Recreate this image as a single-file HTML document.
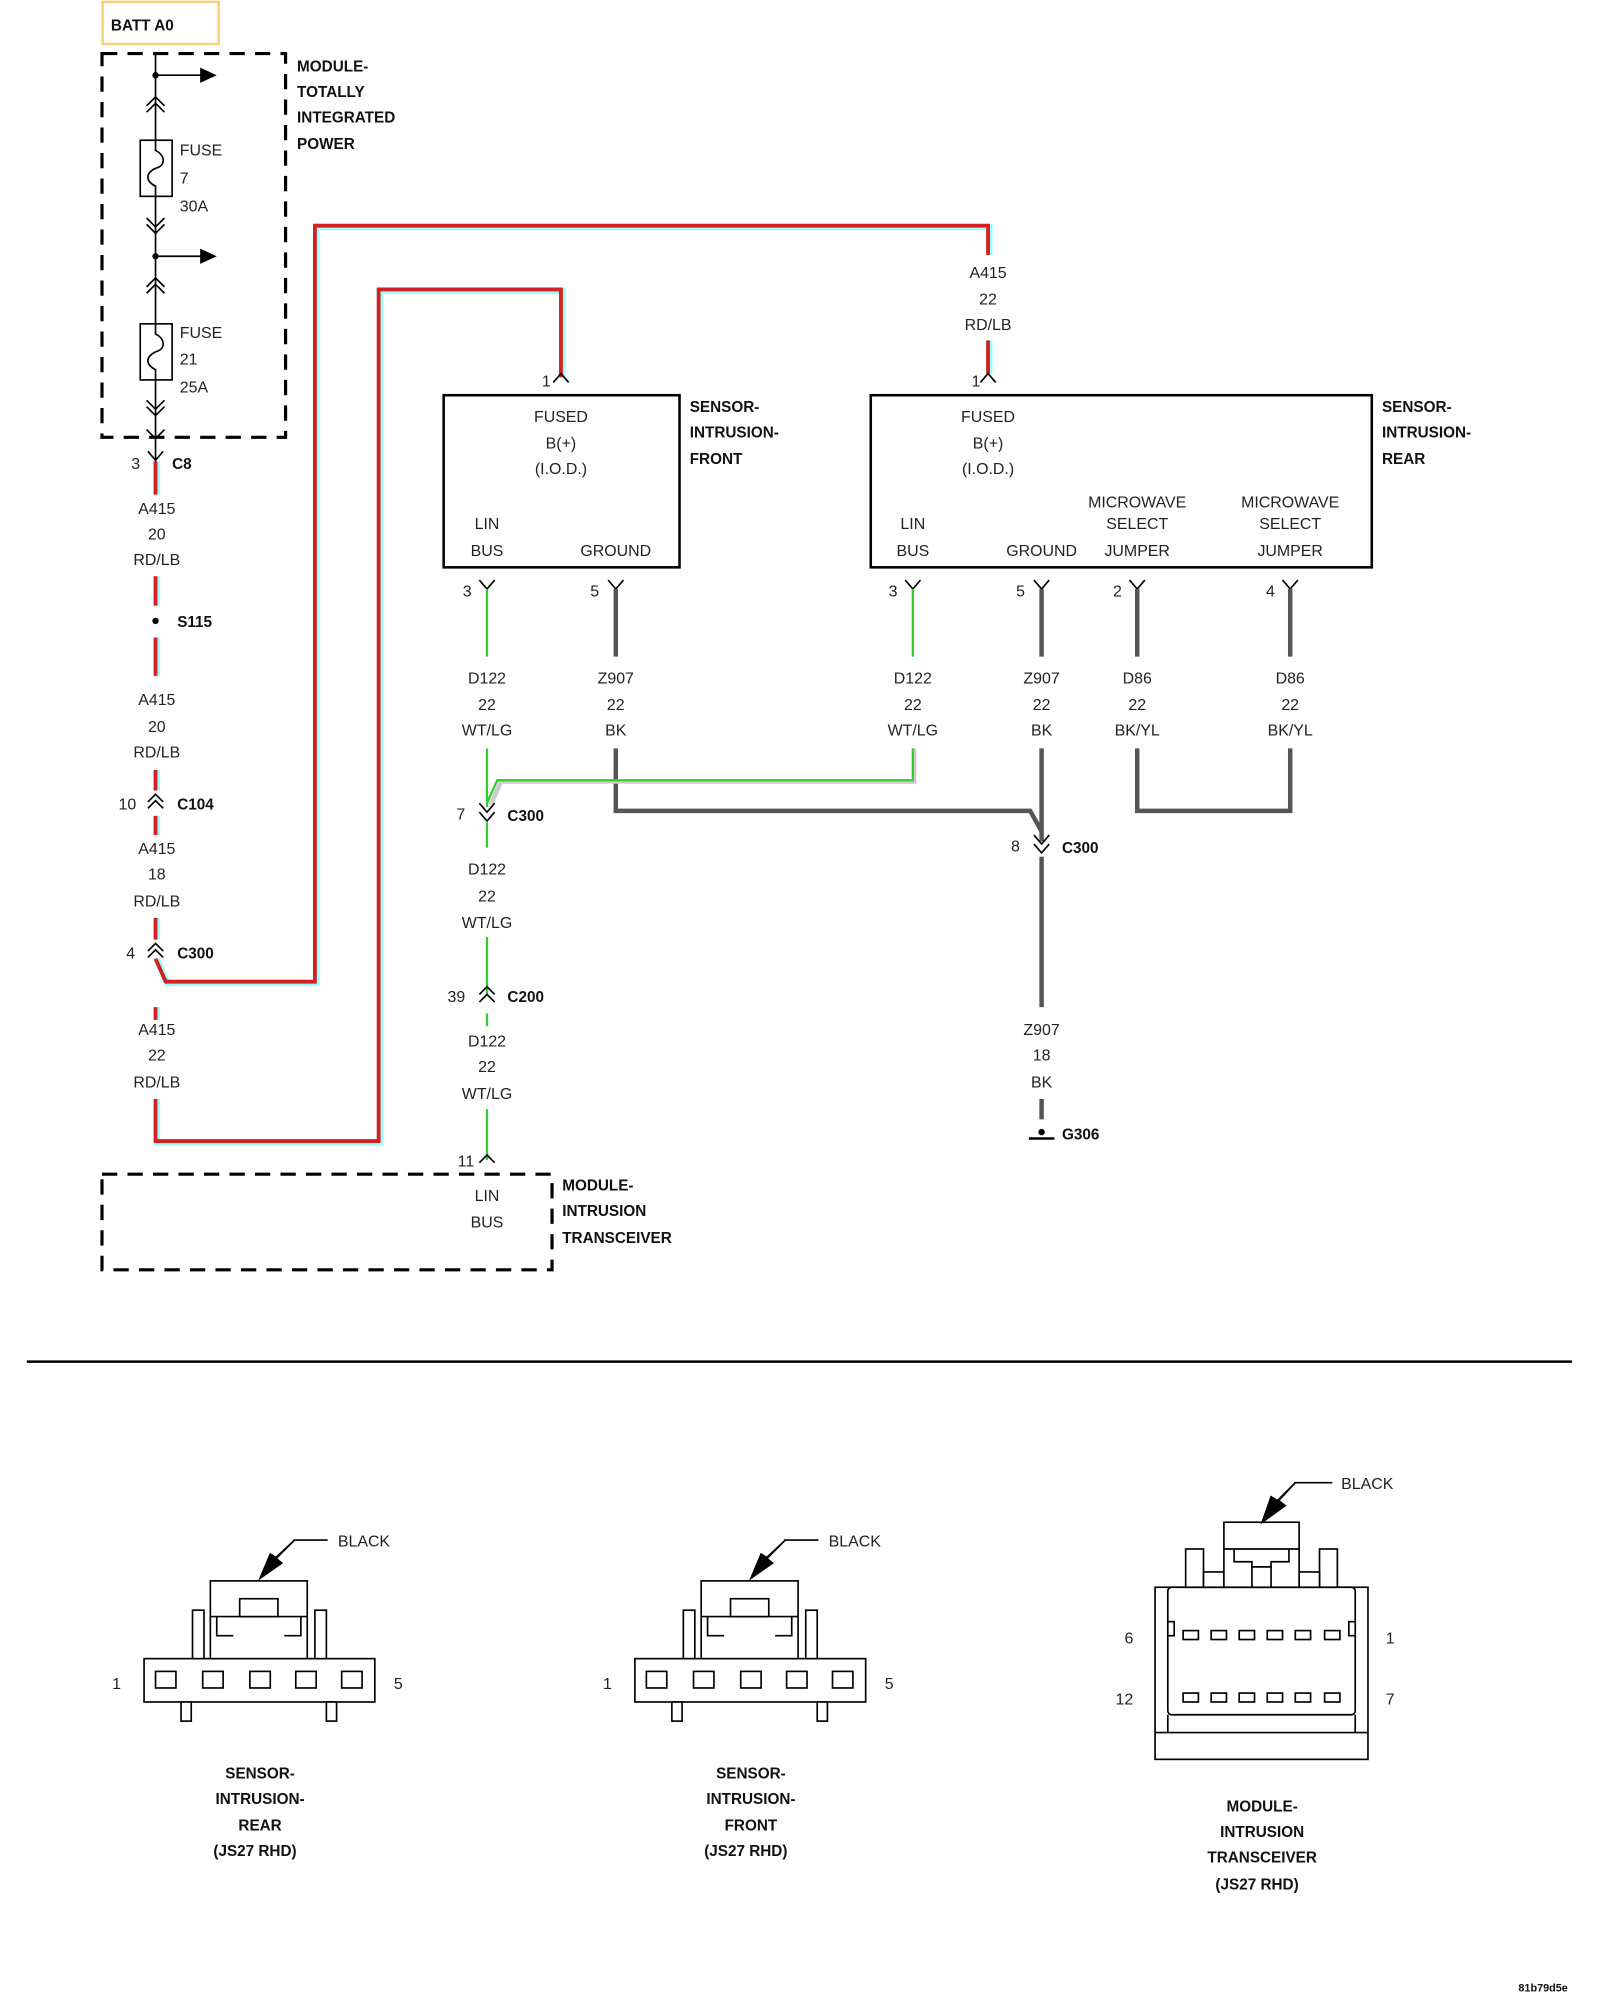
<!DOCTYPE html>
<html><head><meta charset="utf-8"><style>
html,body{margin:0;padding:0;background:#fff;}
svg{display:block;}
text{font-family:"Liberation Sans",Arial,sans-serif;font-size:12.5px;fill:#222;}
.b{font-weight:bold;font-size:12px;fill:#111;}
.m{text-anchor:middle;}
</style></head><body>
<svg width="1600" height="2000" viewBox="0 0 1255 1568.75" preserveAspectRatio="none" xmlns="http://www.w3.org/2000/svg">
<rect x="0" y="0" width="1255" height="1568.75" fill="#fff"/>
<!-- BATT -->
<rect x="80.5" y="1.5" width="91" height="33" fill="none" stroke="#f3d47c" stroke-width="2"/>
<text class="b" x="87" y="24">BATT A0</text>
<!-- TIPM -->
<path d="M80 42 H224 V343 H80 Z" fill="none" stroke="#000" stroke-width="2.5" stroke-dasharray="12,8"/>
<text class="b" x="233" y="56">MODULE-</text><text class="b" x="233" y="76">TOTALLY</text><text class="b" x="233" y="96">INTEGRATED</text><text class="b" x="233" y="117">POWER</text>
<g stroke="#000" stroke-width="1.3" fill="none">
<line x1="122" y1="42" x2="122" y2="362"/>
<line x1="122" y1="59" x2="158" y2="59"/><line x1="122" y1="201" x2="158" y2="201"/>
<path d="M115 83 L122 76 L129 83 M115 88 L122 81 L129 88"/>
<path d="M115 171 L122 178 L129 171 M115 176 L122 183 L129 176"/>
<path d="M115 225 L122 218 L129 225 M115 230 L122 223 L129 230"/>
<path d="M115 314 L122 321 L129 314 M115 319 L122 326 L129 319"/>
<path d="M115 337 L122 344 L129 337"/>
<rect x="110" y="110" width="25" height="44" fill="#fff"/>
<rect x="110" y="254" width="25" height="44" fill="#fff"/>
<path d="M122 110 V118 C130 122 130 130 122 132 C114 136 114 142 122 146 V154"/>
<path d="M122 254 V262 C130 266 130 274 122 276 C114 280 114 286 122 290 V298"/>
</g>
<circle cx="122" cy="59" r="2.5"/><circle cx="122" cy="201" r="2.5"/>
<path d="M157 53 L170 59 L157 65 Z"/><path d="M157 195 L170 201 L157 207 Z"/>
<text x="141" y="122">FUSE</text><text x="141" y="144">7</text><text x="141" y="166">30A</text>
<text x="141" y="265">FUSE</text><text x="141" y="286">21</text><text x="141" y="308">25A</text>
<!-- red wires -->
<g fill="none" stroke-linejoin="miter">
<g stroke="#9ff" stroke-width="5">
<path d="M123 362 V388 M123 452 V475 M123 500 V530 M123 604 V620 M123 640 V655 M123 720 V737"/>
<path d="M123 752 L131 771 H248 V178 H776 V200"/>
<path d="M123 790 V800 M123 862 V896 H298 V228 H441 V296"/>
<path d="M776 267 V293"/>
</g>
<g stroke="#d42020" stroke-width="3">
<path d="M122 362 V388 M122 452 V475 M122 500 V530 M122 604 V620 M122 640 V655 M122 720 V737"/>
<path d="M122 752 L130 770 H247 V177 H775 V200"/>
<path d="M122 790 V800 M122 862 V895 H297 V227 H440 V296"/>
<path d="M775 267 V293"/>
</g>
</g>
<g stroke="#000" stroke-width="1.3" fill="none">
<path d="M116 354 L122 361 L128 354"/>
<path d="M116 629 L122 623 L128 629 M116 634 L122 628 L128 634"/>
<path d="M116 746 L122 740 L128 746 M116 751 L122 745 L128 751"/>
<path d="M769 300 L775 293 L781 300"/><path d="M434 300 L440 293 L446 300"/>
</g>
<circle cx="122" cy="487" r="2.5"/>
<text x="103" y="368">3</text><text class="b" x="135" y="368">C8</text>
<text class="m" x="123" y="403">A415</text><text class="m" x="123" y="423">20</text><text class="m" x="123" y="443">RD/LB</text>
<text class="b" x="139" y="492">S115</text>
<text class="m" x="123" y="553">A415</text><text class="m" x="123" y="574">20</text><text class="m" x="123" y="594">RD/LB</text>
<text x="93" y="635">10</text><text class="b" x="139" y="635">C104</text>
<text class="m" x="123" y="670">A415</text><text class="m" x="123" y="690">18</text><text class="m" x="123" y="711">RD/LB</text>
<text x="99" y="752">4</text><text class="b" x="139" y="752">C300</text>
<text class="m" x="123" y="812">A415</text><text class="m" x="123" y="832">22</text><text class="m" x="123" y="853">RD/LB</text>
<text class="m" x="775" y="218">A415</text><text class="m" x="775" y="239">22</text><text class="m" x="775" y="259">RD/LB</text>
<text x="762" y="303">1</text><text x="425" y="303">1</text>
<!-- sensors -->
<rect x="348" y="310" width="185" height="135" fill="none" stroke="#000" stroke-width="2"/>
<text class="m" x="440" y="331">FUSED</text><text class="m" x="440" y="352">B(+)</text><text class="m" x="440" y="372">(I.O.D.)</text>
<text class="m" x="382" y="415">LIN</text><text class="m" x="382" y="436">BUS</text><text class="m" x="483" y="436">GROUND</text>
<text class="b" x="541" y="323">SENSOR-</text><text class="b" x="541" y="343">INTRUSION-</text><text class="b" x="541" y="364">FRONT</text>
<rect x="683" y="310" width="393" height="135" fill="none" stroke="#000" stroke-width="2"/>
<text class="m" x="775" y="331">FUSED</text><text class="m" x="775" y="352">B(+)</text><text class="m" x="775" y="372">(I.O.D.)</text>
<text class="m" x="716" y="415">LIN</text><text class="m" x="716" y="436">BUS</text><text class="m" x="817" y="436">GROUND</text>
<text class="m" x="892" y="398">MICROWAVE</text><text class="m" x="892" y="415">SELECT</text><text class="m" x="892" y="436">JUMPER</text>
<text class="m" x="1012" y="398">MICROWAVE</text><text class="m" x="1012" y="415">SELECT</text><text class="m" x="1012" y="436">JUMPER</text>
<text class="b" x="1084" y="323">SENSOR-</text><text class="b" x="1084" y="343">INTRUSION-</text><text class="b" x="1084" y="364">REAR</text>
<!-- pin symbols -->
<g stroke="#000" stroke-width="1.3" fill="none">
<path d="M376 455 L382 462 L388 455 M382 462 V466"/><path d="M477 455 L483 462 L489 455"/>
<path d="M710 455 L716 462 L722 455"/><path d="M811 455 L817 462 L823 455"/>
<path d="M886 455 L892 462 L898 455"/><path d="M1006 455 L1012 462 L1018 455"/>
</g>
<text x="363" y="468">3</text><text x="463" y="468">5</text><text x="697" y="468">3</text><text x="797" y="468">5</text><text x="873" y="468">2</text><text x="993" y="468">4</text>
<!-- gray wires -->
<g stroke="#555" stroke-width="3.5" fill="none">
<path d="M483 462 V515 M817 462 V515 M892 462 V515 M1012 462 V515"/>
<path d="M483 587 V636 H808 L817 652 M817 587 V660"/>
<path d="M817 672 V790 M817 862 V878"/>
<path d="M892 587 V636 H1012 V587"/>
</g>
<!-- green wires -->
<g fill="none">
<path d="M717 587 V613 H393 L385 631" stroke="#ccc" stroke-width="3.5"/>
<g stroke="#3c3" stroke-width="1.8">
<path d="M382 462 V515 M716 462 V515"/>
<path d="M382 587 V633 M716 587 V612 H390 L382 630"/>
<path d="M382 645 V665 M382 735 V780 M382 795 V805 M382 870 V910"/>
</g>
</g>
<g stroke="#000" stroke-width="1.3" fill="none">
<path d="M376 630 L382 637 L388 630 M376 637 L382 644 L388 637"/>
<path d="M811 655 L817 662 L823 655 M811 662 L817 669 L823 662"/>
<path d="M376 780 L382 774 L388 780 M376 786 L382 780 L388 786"/>
<path d="M376 912 L382 906 L388 912"/>
</g>
<text class="m" x="382" y="536">D122</text><text class="m" x="382" y="557">22</text><text class="m" x="382" y="577">WT/LG</text>
<text class="m" x="483" y="536">Z907</text><text class="m" x="483" y="557">22</text><text class="m" x="483" y="577">BK</text>
<text class="m" x="716" y="536">D122</text><text class="m" x="716" y="557">22</text><text class="m" x="716" y="577">WT/LG</text>
<text class="m" x="817" y="536">Z907</text><text class="m" x="817" y="557">22</text><text class="m" x="817" y="577">BK</text>
<text class="m" x="892" y="536">D86</text><text class="m" x="892" y="557">22</text><text class="m" x="892" y="577">BK/YL</text>
<text class="m" x="1012" y="536">D86</text><text class="m" x="1012" y="557">22</text><text class="m" x="1012" y="577">BK/YL</text>
<text x="358" y="643">7</text><text class="b" x="398" y="644">C300</text>
<text x="793" y="668">8</text><text class="b" x="833" y="669">C300</text>
<text class="m" x="382" y="686">D122</text><text class="m" x="382" y="707">22</text><text class="m" x="382" y="728">WT/LG</text>
<text x="351" y="786">39</text><text class="b" x="398" y="786">C200</text>
<text class="m" x="382" y="821">D122</text><text class="m" x="382" y="841">22</text><text class="m" x="382" y="862">WT/LG</text>
<text x="359" y="915">11</text>
<text class="m" x="817" y="812">Z907</text><text class="m" x="817" y="832">18</text><text class="m" x="817" y="853">BK</text>
<circle cx="817" cy="888" r="2.5"/><line x1="807" y1="893" x2="827" y2="893" stroke="#000" stroke-width="2"/>
<text class="b" x="833" y="894">G306</text>
<!-- transceiver -->
<path d="M80 921 H433 V996 H80 Z" fill="none" stroke="#000" stroke-width="2.5" stroke-dasharray="12,8"/>
<text class="m" x="382" y="942">LIN</text><text class="m" x="382" y="963">BUS</text>
<text class="b" x="441" y="934">MODULE-</text><text class="b" x="441" y="954">INTRUSION</text><text class="b" x="441" y="975">TRANSCEIVER</text>
<line x1="21" y1="1068" x2="1233" y2="1068" stroke="#000" stroke-width="2"/>
<!-- small connectors -->
<g id="c1" stroke="#000" stroke-width="1.3" fill="#fff">
<rect x="113" y="1301" width="181" height="34"/>
<rect x="122" y="1311" width="16" height="13"/><rect x="159" y="1311" width="16" height="13"/><rect x="196" y="1311" width="16" height="13"/><rect x="232" y="1311" width="16" height="13"/><rect x="268" y="1311" width="16" height="13"/>
<rect x="142" y="1335" width="8" height="15"/><rect x="256" y="1335" width="8" height="15"/>
<rect x="151" y="1263" width="9" height="38"/><rect x="247" y="1263" width="9" height="38"/>
<rect x="165" y="1240" width="76" height="61"/>
<path d="M165 1268 H241 M170 1268 V1283 H183 M236 1268 V1283 H223" fill="none"/>
<rect x="188" y="1254" width="30" height="14"/>
<path d="M230 1208 H257" fill="none"/>
<path d="M231 1208 L216 1222 L221 1226 L204 1238 L212 1219 L217 1222 Z" fill="#000"/>
</g>
<use href="#c1" x="385" y="0"/>
<text x="265" y="1213">BLACK</text><text x="650" y="1213">BLACK</text>
<text x="88" y="1325">1</text><text x="309" y="1325">5</text>
<text x="473" y="1325">1</text><text x="694" y="1325">5</text>
<text class="b m" x="204" y="1395">SENSOR-</text><text class="b m" x="204" y="1415">INTRUSION-</text><text class="b m" x="204" y="1436">REAR</text><text class="b m" x="200" y="1456">(JS27 RHD)</text>
<text class="b m" x="589" y="1395">SENSOR-</text><text class="b m" x="589" y="1415">INTRUSION-</text><text class="b m" x="589" y="1436">FRONT</text><text class="b m" x="585" y="1456">(JS27 RHD)</text>
<!-- transceiver connector -->
<g stroke="#000" stroke-width="1.3" fill="#fff">
<rect x="906" y="1245" width="167" height="135"/>
<rect x="916" y="1245" width="147" height="100" rx="3"/>
<path d="M916 1345 V1359 M1063 1345 V1359 M906 1359 H1073" fill="none"/>
<rect x="930" y="1215" width="14" height="30"/><rect x="1035" y="1215" width="14" height="30"/>
<rect x="944" y="1233" width="16" height="12"/><rect x="1019" y="1233" width="16" height="12"/>
<rect x="960" y="1194" width="59" height="51"/>
<rect x="982" y="1229" width="15" height="16"/>
<path d="M968 1215 V1225 H982 V1229 H997 V1225 H1011 V1215 M960 1215 H1019" fill="none"/>
<rect x="916" y="1272" width="5" height="11"/><rect x="1058" y="1272" width="5" height="11"/>
<rect x="928" y="1279" width="12" height="7"/><rect x="950" y="1279" width="12" height="7"/><rect x="972" y="1279" width="12" height="7"/><rect x="994" y="1279" width="12" height="7"/><rect x="1016" y="1279" width="12" height="7"/><rect x="1039" y="1279" width="12" height="7"/>
<rect x="928" y="1328" width="12" height="7"/><rect x="950" y="1328" width="12" height="7"/><rect x="972" y="1328" width="12" height="7"/><rect x="994" y="1328" width="12" height="7"/><rect x="1016" y="1328" width="12" height="7"/><rect x="1039" y="1328" width="12" height="7"/>
<path d="M1015 1163 H1045" fill="none"/>
<path d="M1016 1163 L1003 1177 L1008 1181 L990 1194 L997 1174 L1002 1177 Z" fill="#000"/>
</g>
<text x="1052" y="1168">BLACK</text>
<text x="882" y="1289">6</text><text x="1087" y="1289">1</text><text x="875" y="1337">12</text><text x="1087" y="1337">7</text>
<text class="b m" x="990" y="1421">MODULE-</text><text class="b m" x="990" y="1441">INTRUSION</text><text class="b m" x="990" y="1461">TRANSCEIVER</text><text class="b m" x="986" y="1482">(JS27 RHD)</text>
<text class="b" x="1191" y="1562" style="font-size:8.5px">81b79d5e</text>
</svg>
</body></html>
